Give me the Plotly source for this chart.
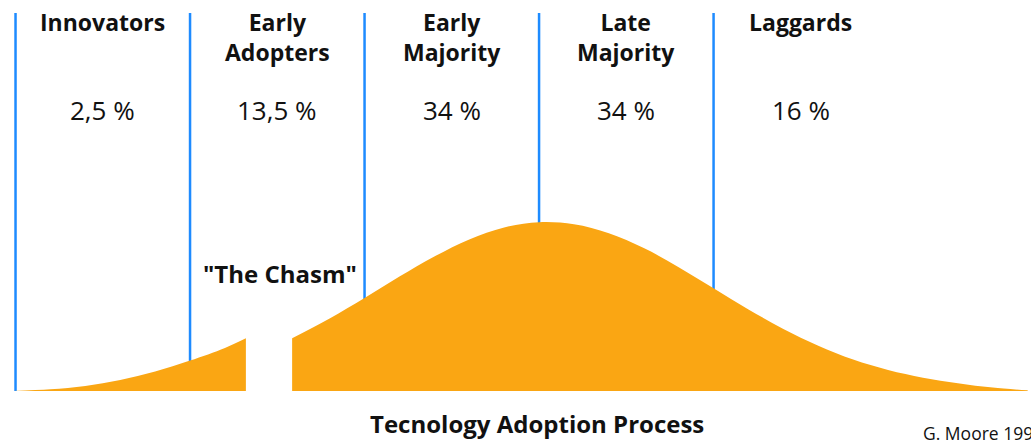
import plotly.graph_objects as go

# adoption groups
groups = ["Innovators", "Early<br>Adopters", "Early<br>Majority", "Late<br>Majority", "Laggards"]
shares = ["2,5 %", "13,5 %", "34 %", "34 %", "16 %"]
group_start = [-3, -2, -1, 0, 1]          # standard deviations from the mean
group_mid = [-2.5, -1.5, -0.5, 0.5, 1.5]

# bell curve (x in std devs, y in % of peak height)
# left piece ends at the chasm, right piece starts after it
left_x = [-3.01, -2.8, -2.6, -2.4, -2.2, -2.0, -1.8, -1.68]
left_y = [0, 1.0, 3.0, 6.5, 11.5, 18.0, 25.5, 31.2]
right_x = [-1.415, -1.2, -1.0, -0.8, -0.6, -0.4, -0.2, 0.0, 0.2, 0.4, 0.6,
           0.8, 1.0, 1.2, 1.4, 1.6, 1.8, 2.0, 2.2, 2.4, 2.6, 2.8]
right_y = [31.2, 42.9, 55.0, 67.7, 79.6, 89.7, 96.8, 99.9, 98.7, 93.4, 84.6,
           73.3, 60.8, 48.3, 36.7, 26.8, 18.6, 12.4, 7.9, 4.6, 2.0, 0.4]

ORANGE = "#FAA613"
BLUE = "#1E8BFF"
FONT = "Open Sans"

fig = go.Figure()

# dividers between groups, drawn first so the curve covers them
div_x, div_y = [], []
for s in group_start:
    div_x += [s, s, None]
    div_y += [0, 223.7, None]
fig.add_trace(go.Scatter(x=div_x, y=div_y, mode="lines",
                         line=dict(color=BLUE, width=2.5), hoverinfo="skip"))

for xs, ys in [(left_x, left_y), (right_x, right_y)]:
    fig.add_trace(go.Scatter(
        x=xs, y=ys, mode="lines", fill="tozeroy",
        line=dict(color=ORANGE, width=0, shape="spline", smoothing=1),
        fillcolor=ORANGE, hoverinfo="skip",
    ))

annotations = []
for g, p, m in zip(groups, shares, group_mid):
    annotations.append(dict(
        x=m, y=229.3, yanchor="top", text=f"<b>{g}</b>", showarrow=False,
        font=dict(family=FONT, size=23, color="#111111"),
    ))
    annotations.append(dict(
        x=m, y=166.3, yanchor="middle", text=p, showarrow=False,
        font=dict(family=FONT, size=26, color="#111111"),
    ))

annotations += [
    dict(x=-1.484, y=69.8, text='<b>"The Chasm"</b>', showarrow=False,
         font=dict(family=FONT, size=24, color="#111111")),
    dict(x=-0.011, y=-19.5, text="<b>Tecnology Adoption Process</b>", showarrow=False,
         font=dict(family=FONT, size=24, color="#111111")),
    dict(x=2.189, y=-24.9, xanchor="left", text="G. Moore 1991", showarrow=False,
         font=dict(family=FONT, size=17.5, color="#111111")),
]

fig.update_layout(
    width=1031, height=441,
    margin=dict(l=0, r=0, t=0, b=0),
    paper_bgcolor="#FFFFFF", plot_bgcolor="#FFFFFF",
    showlegend=False,
    xaxis=dict(range=[-3.089, 2.819], visible=False, fixedrange=True),
    yaxis=dict(range=[-29.6, 231.4], visible=False, fixedrange=True),
    annotations=annotations,
)

# page body has a default 8px margin; drop it so the chart sits at 0,0
fig.write_html("out.html", config={"displayModeBar": False},
               post_script="document.body.style.margin='0';")
